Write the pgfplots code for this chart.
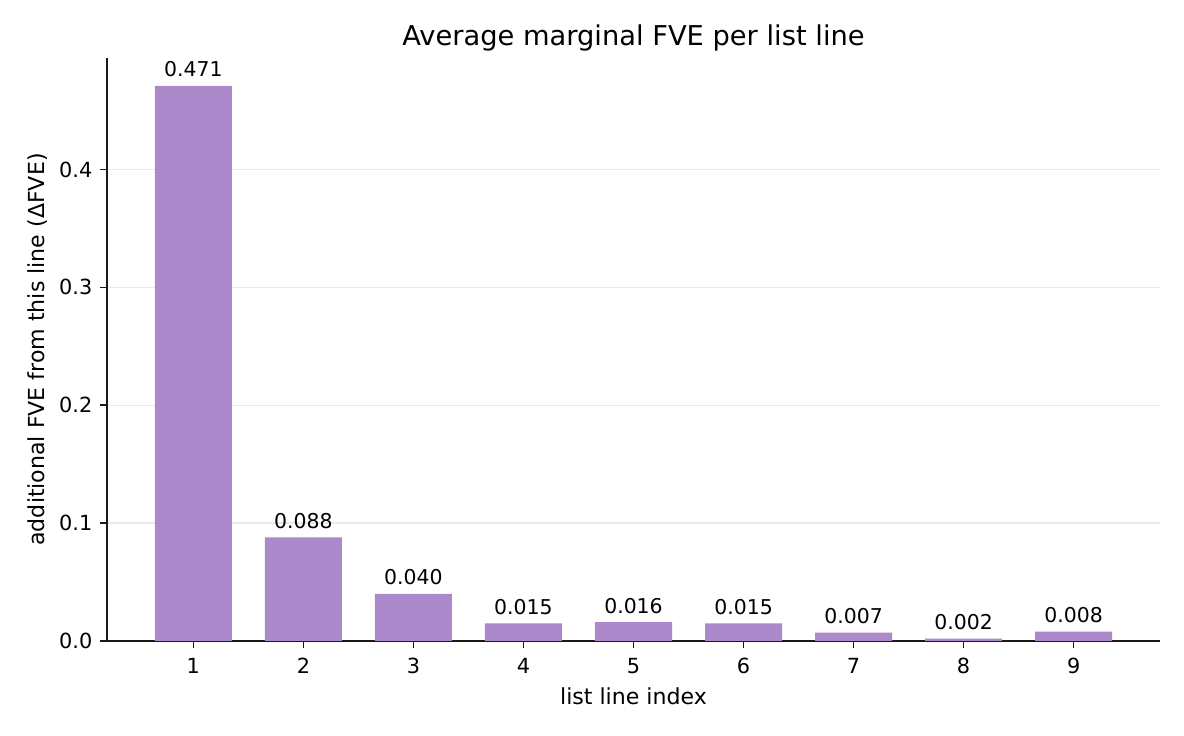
\documentclass[border=0pt]{standalone}
\usepackage{fontspec}
\setmainfont{DejaVu Sans}
\usepackage{pgfplots}
\pgfplotsset{compat=1.18}
\definecolor{barpurple}{HTML}{AB89CA}
\definecolor{gridgray}{HTML}{E8E8E8}
\begin{document}
\begin{tikzpicture}[x=1pt,y=1pt]
\path[use as bounding box] (-51.36pt,-45.6pt) rectangle (516.96pt,307.68pt);
\begin{axis}[
  at={(0,0)}, anchor=south west,
  scale only axis,
  width=505.44pt, height=279.84pt,
  xmin=0.215, xmax=9.785,
  ymin=0, ymax=0.4946,
  axis x line*=bottom, axis y line*=left,
  axis line style={line width=0.8pt, black!90},
  xtick={1,2,3,4,5,6,7,8,9},
  ytick={0,0.1,0.2,0.3,0.4},
  yticklabels={0.0,0.1,0.2,0.3,0.4},
  tick align=outside,
  major tick length=3.5pt,
  tick style={line width=0.8pt, black!90},
  ymajorgrids,
  grid style={line width=0.6pt, gridgray},
  /pgf/number format/assume math mode=true,
  ticklabel style={font=\fontsize{10}{12}\selectfont},
  xticklabel style={anchor=base, yshift=-12.3pt},
  title={Average marginal FVE per list line},
  title style={at={(axis description cs:0.5,1)}, anchor=base, yshift=0.2pt, font=\fontsize{13.1}{15}\selectfont},
  xlabel={list line index},
  xlabel style={at={(axis description cs:0.5,0)}, anchor=base, yshift=-30.7pt, font=\fontsize{10.6}{12}\selectfont},
  ylabel={additional FVE from this line (ΔFVE)},
  ylabel style={at={(axis description cs:-0.0598,0.5)}, anchor=base, font=\fontsize{10.6}{12}\selectfont},
  ybar, bar width=0.7,
  nodes near coords,
  nodes near coords style={/pgf/number format/fixed, /pgf/number format/fixed zerofill, /pgf/number format/precision=3, /pgf/number format/assume math mode=true},
  every node near coord/.append style={anchor=base, yshift=4.3pt, inner sep=0pt, font=\fontsize{9.8}{12}\selectfont, black},
]
\addplot[fill=barpurple, draw=none] coordinates {
  (1,0.471) (2,0.088) (3,0.040) (4,0.015) (5,0.016) (6,0.015) (7,0.007) (8,0.002) (9,0.008)
};
\end{axis}
\end{tikzpicture}
\end{document}
